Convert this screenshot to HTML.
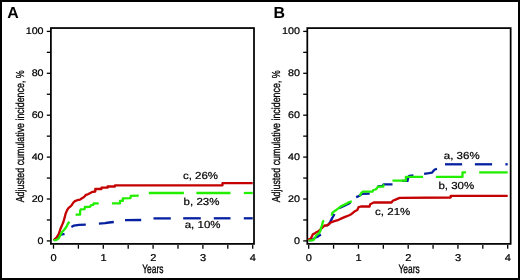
<!DOCTYPE html>
<html><head><meta charset="utf-8"><style>
html,body{margin:0;padding:0;background:#fff;}
body{width:520px;height:280px;overflow:hidden;}
svg{display:block;will-change:transform;}
text{font-family:"Liberation Sans",sans-serif;fill:#000;text-rendering:geometricPrecision;}
.tk{font-size:9.9px;stroke:#000;stroke-width:0.22px;}
.tky{font-size:9.6px;stroke:#000;stroke-width:0.22px;}
.lb{font-size:10.2px;stroke:#000;stroke-width:0.2px;}
.cond{font-size:11.6px;stroke:#000;stroke-width:0.3px;}
.big{font-size:15.9px;font-weight:bold;}
</style></head><body>
<svg width="520" height="280" viewBox="0 0 520 280">
<rect x="0" y="0" width="520" height="280" fill="#fff"/>
<rect x="1" y="1" width="518" height="278" fill="none" stroke="#000" stroke-width="2"/>
<rect x="50.9" y="28.05" width="203.1" height="215.85" fill="none" stroke="#000" stroke-width="1.75"/>
<line x1="46.8" y1="240.90" x2="50.9" y2="240.90" stroke="#000" stroke-width="1.3"/>
<text transform="translate(43.60,243.70) scale(1.12,1)" text-anchor="end" class="tky">0</text>
<line x1="46.8" y1="219.95" x2="50.9" y2="219.95" stroke="#000" stroke-width="1.3"/>
<line x1="46.8" y1="199.00" x2="50.9" y2="199.00" stroke="#000" stroke-width="1.3"/>
<text transform="translate(43.60,201.80) scale(1.12,1)" text-anchor="end" class="tky">20</text>
<line x1="46.8" y1="178.05" x2="50.9" y2="178.05" stroke="#000" stroke-width="1.3"/>
<line x1="46.8" y1="157.10" x2="50.9" y2="157.10" stroke="#000" stroke-width="1.3"/>
<text transform="translate(43.60,159.90) scale(1.12,1)" text-anchor="end" class="tky">40</text>
<line x1="46.8" y1="136.15" x2="50.9" y2="136.15" stroke="#000" stroke-width="1.3"/>
<line x1="46.8" y1="115.20" x2="50.9" y2="115.20" stroke="#000" stroke-width="1.3"/>
<text transform="translate(43.60,118.00) scale(1.12,1)" text-anchor="end" class="tky">60</text>
<line x1="46.8" y1="94.25" x2="50.9" y2="94.25" stroke="#000" stroke-width="1.3"/>
<line x1="46.8" y1="73.30" x2="50.9" y2="73.30" stroke="#000" stroke-width="1.3"/>
<text transform="translate(43.60,76.10) scale(1.12,1)" text-anchor="end" class="tky">80</text>
<line x1="46.8" y1="52.35" x2="50.9" y2="52.35" stroke="#000" stroke-width="1.3"/>
<line x1="46.8" y1="31.40" x2="50.9" y2="31.40" stroke="#000" stroke-width="1.3"/>
<text transform="translate(43.60,34.20) scale(1.12,1)" text-anchor="end" class="tky">100</text>
<line x1="53.50" y1="244.9" x2="53.50" y2="248.70000000000002" stroke="#000" stroke-width="1.3"/>
<text transform="translate(53.70,260.70) scale(1.12,1)" text-anchor="middle" class="tk">0</text>
<line x1="78.40" y1="244.9" x2="78.40" y2="248.70000000000002" stroke="#000" stroke-width="1.3"/>
<line x1="103.30" y1="244.9" x2="103.30" y2="248.70000000000002" stroke="#000" stroke-width="1.3"/>
<text transform="translate(103.50,260.70) scale(1.12,1)" text-anchor="middle" class="tk">1</text>
<line x1="128.20" y1="244.9" x2="128.20" y2="248.70000000000002" stroke="#000" stroke-width="1.3"/>
<line x1="153.10" y1="244.9" x2="153.10" y2="248.70000000000002" stroke="#000" stroke-width="1.3"/>
<text transform="translate(153.30,260.70) scale(1.12,1)" text-anchor="middle" class="tk">2</text>
<line x1="178.00" y1="244.9" x2="178.00" y2="248.70000000000002" stroke="#000" stroke-width="1.3"/>
<line x1="202.90" y1="244.9" x2="202.90" y2="248.70000000000002" stroke="#000" stroke-width="1.3"/>
<text transform="translate(203.10,260.70) scale(1.12,1)" text-anchor="middle" class="tk">3</text>
<line x1="227.80" y1="244.9" x2="227.80" y2="248.70000000000002" stroke="#000" stroke-width="1.3"/>
<line x1="252.70" y1="244.9" x2="252.70" y2="248.70000000000002" stroke="#000" stroke-width="1.3"/>
<text transform="translate(252.90,260.70) scale(1.12,1)" text-anchor="middle" class="tk">4</text>
<text x="152.8" y="273.1" text-anchor="middle" class="cond" style="font-size:12.2px" textLength="21.2" lengthAdjust="spacingAndGlyphs">Years</text>
<text transform="translate(24.0,202.3) rotate(-90)" class="cond" textLength="132" lengthAdjust="spacingAndGlyphs">Adjusted cumulative incidence, %</text>
<text x="7.2" y="18.4" class="big">A</text>
<rect x="307.3" y="28.1" width="203.34999999999997" height="215.8" fill="none" stroke="#000" stroke-width="1.75"/>
<line x1="303.2" y1="240.90" x2="307.3" y2="240.90" stroke="#000" stroke-width="1.3"/>
<text transform="translate(300.00,243.70) scale(1.12,1)" text-anchor="end" class="tky">0</text>
<line x1="303.2" y1="219.95" x2="307.3" y2="219.95" stroke="#000" stroke-width="1.3"/>
<line x1="303.2" y1="199.00" x2="307.3" y2="199.00" stroke="#000" stroke-width="1.3"/>
<text transform="translate(300.00,201.80) scale(1.12,1)" text-anchor="end" class="tky">20</text>
<line x1="303.2" y1="178.05" x2="307.3" y2="178.05" stroke="#000" stroke-width="1.3"/>
<line x1="303.2" y1="157.10" x2="307.3" y2="157.10" stroke="#000" stroke-width="1.3"/>
<text transform="translate(300.00,159.90) scale(1.12,1)" text-anchor="end" class="tky">40</text>
<line x1="303.2" y1="136.15" x2="307.3" y2="136.15" stroke="#000" stroke-width="1.3"/>
<line x1="303.2" y1="115.20" x2="307.3" y2="115.20" stroke="#000" stroke-width="1.3"/>
<text transform="translate(300.00,118.00) scale(1.12,1)" text-anchor="end" class="tky">60</text>
<line x1="303.2" y1="94.25" x2="307.3" y2="94.25" stroke="#000" stroke-width="1.3"/>
<line x1="303.2" y1="73.30" x2="307.3" y2="73.30" stroke="#000" stroke-width="1.3"/>
<text transform="translate(300.00,76.10) scale(1.12,1)" text-anchor="end" class="tky">80</text>
<line x1="303.2" y1="52.35" x2="307.3" y2="52.35" stroke="#000" stroke-width="1.3"/>
<line x1="303.2" y1="31.40" x2="307.3" y2="31.40" stroke="#000" stroke-width="1.3"/>
<text transform="translate(300.00,34.20) scale(1.12,1)" text-anchor="end" class="tky">100</text>
<line x1="308.70" y1="244.9" x2="308.70" y2="248.70000000000002" stroke="#000" stroke-width="1.3"/>
<text transform="translate(308.90,260.70) scale(1.12,1)" text-anchor="middle" class="tk">0</text>
<line x1="333.57" y1="244.9" x2="333.57" y2="248.70000000000002" stroke="#000" stroke-width="1.3"/>
<line x1="358.45" y1="244.9" x2="358.45" y2="248.70000000000002" stroke="#000" stroke-width="1.3"/>
<text transform="translate(358.65,260.70) scale(1.12,1)" text-anchor="middle" class="tk">1</text>
<line x1="383.32" y1="244.9" x2="383.32" y2="248.70000000000002" stroke="#000" stroke-width="1.3"/>
<line x1="408.20" y1="244.9" x2="408.20" y2="248.70000000000002" stroke="#000" stroke-width="1.3"/>
<text transform="translate(408.40,260.70) scale(1.12,1)" text-anchor="middle" class="tk">2</text>
<line x1="433.07" y1="244.9" x2="433.07" y2="248.70000000000002" stroke="#000" stroke-width="1.3"/>
<line x1="457.95" y1="244.9" x2="457.95" y2="248.70000000000002" stroke="#000" stroke-width="1.3"/>
<text transform="translate(458.15,260.70) scale(1.12,1)" text-anchor="middle" class="tk">3</text>
<line x1="482.82" y1="244.9" x2="482.82" y2="248.70000000000002" stroke="#000" stroke-width="1.3"/>
<line x1="507.70" y1="244.9" x2="507.70" y2="248.70000000000002" stroke="#000" stroke-width="1.3"/>
<text transform="translate(507.90,260.70) scale(1.12,1)" text-anchor="middle" class="tk">4</text>
<text x="409.1" y="273.1" text-anchor="middle" class="cond" style="font-size:12.2px" textLength="21.2" lengthAdjust="spacingAndGlyphs">Years</text>
<text transform="translate(280.4,202.3) rotate(-90)" class="cond" textLength="132" lengthAdjust="spacingAndGlyphs">Adjusted cumulative incidence, %</text>
<text x="273.4" y="18.4" class="big">B</text>
<polyline points="53.6,240.3 57.0,238.5 60.1,235.0 64.5,233.8" fill="none" stroke="#0520a0" stroke-width="2.3" stroke-linejoin="round"/>
<polyline points="71.4,226.9 73.9,225.6 79.0,224.9 85.8,224.6" fill="none" stroke="#0520a0" stroke-width="2.3" stroke-linejoin="round"/>
<polyline points="98.9,223.7 105.0,223.2 109.0,222.5 113.8,222.0" fill="none" stroke="#0520a0" stroke-width="2.3" stroke-linejoin="round"/>
<polyline points="125.0,220.2 141.2,220.0" fill="none" stroke="#0520a0" stroke-width="2.3" stroke-linejoin="round"/>
<polyline points="153.5,218.4 170.8,218.4" fill="none" stroke="#0520a0" stroke-width="2.3" stroke-linejoin="round"/>
<polyline points="183.2,218.3 200.8,218.3" fill="none" stroke="#0520a0" stroke-width="2.3" stroke-linejoin="round"/>
<polyline points="213.8,218.3 230.5,218.3" fill="none" stroke="#0520a0" stroke-width="2.3" stroke-linejoin="round"/>
<polyline points="243.8,218.3 252.7,218.3" fill="none" stroke="#0520a0" stroke-width="2.3" stroke-linejoin="round"/>
<polyline points="53.6,240.2 54.3,239.6 56.5,237.6 58.8,233.8 60.3,229.3 61.8,225.6 63.3,222.2 64.7,217.4 65.6,213.7 67.0,210.4 68.4,208.1 70.2,206.7 71.6,205.3 73.0,203.0 74.9,201.1 77.2,200.2 80.0,199.6 81.6,198.5 83.7,197.3 84.8,196.2 85.9,194.8 87.9,194.3 90.3,193.0 92.6,191.8 95.3,191.5 95.3,189.0 101.5,189.0 101.5,187.7 107.6,187.7 107.6,186.5 115.0,186.5 115.0,185.3 222.5,185.3 222.5,183.2 252.7,183.2" fill="none" stroke="#c40000" stroke-width="2.3" stroke-linejoin="round"/>
<polyline points="53.6,240.4 56.5,239.9 58.8,238.3 60.3,235.3 61.8,232.3 64.0,230.0 66.3,227.0 67.8,224.0 69.4,221.6" fill="none" stroke="#22ee00" stroke-width="2.3" stroke-linejoin="round"/>
<polyline points="75.6,214.7 80.1,214.7 80.1,211.0 80.7,209.4 84.6,209.1 84.9,207.0 90.0,206.8 90.7,205.4 93.2,204.9 93.6,203.5 98.7,203.4" fill="none" stroke="#22ee00" stroke-width="2.3" stroke-linejoin="round"/>
<polyline points="111.9,203.4 120.0,203.4 120.0,200.9 122.8,200.9 122.8,198.3 130.5,198.1 130.8,195.9 138.7,195.7" fill="none" stroke="#22ee00" stroke-width="2.3" stroke-linejoin="round"/>
<polyline points="148.8,193.0 183.9,193.0" fill="none" stroke="#22ee00" stroke-width="2.3" stroke-linejoin="round"/>
<polyline points="196.4,193.0 230.5,193.0" fill="none" stroke="#22ee00" stroke-width="2.3" stroke-linejoin="round"/>
<polyline points="243.8,193.0 252.7,193.0" fill="none" stroke="#22ee00" stroke-width="2.3" stroke-linejoin="round"/>
<polyline points="308.6,240.3 312.0,240.0 315.4,237.6 318.5,236.1 320.9,234.5" fill="none" stroke="#0520a0" stroke-width="2.3" stroke-linejoin="round"/>
<polyline points="326.7,225.3 328.2,224.8 330.1,222.1 332.3,217.9 334.5,214.0" fill="none" stroke="#0520a0" stroke-width="2.3" stroke-linejoin="round"/>
<polyline points="339.0,208.3 345.0,205.5 350.5,202.7" fill="none" stroke="#0520a0" stroke-width="2.3" stroke-linejoin="round"/>
<polyline points="356.1,197.2 358.3,196.4 360.5,195.0 362.0,193.8 369.7,193.6" fill="none" stroke="#0520a0" stroke-width="2.3" stroke-linejoin="round"/>
<polyline points="377.5,186.3 382.5,185.8 383.8,184.4 392.5,184.4" fill="none" stroke="#0520a0" stroke-width="2.3" stroke-linejoin="round"/>
<polyline points="402.0,180.9 407.5,180.9 408.0,178.6 409.1,175.9 413.4,175.4" fill="none" stroke="#0520a0" stroke-width="2.3" stroke-linejoin="round"/>
<polyline points="424.1,173.8 428.9,173.2 432.1,172.7 433.2,171.1 434.8,169.5 437.0,168.9" fill="none" stroke="#0520a0" stroke-width="2.3" stroke-linejoin="round"/>
<polyline points="445.0,164.3 462.1,164.3" fill="none" stroke="#0520a0" stroke-width="2.3" stroke-linejoin="round"/>
<polyline points="474.9,164.3 492.1,164.3" fill="none" stroke="#0520a0" stroke-width="2.3" stroke-linejoin="round"/>
<polyline points="505.4,164.3 507.7,164.3" fill="none" stroke="#0520a0" stroke-width="2.3" stroke-linejoin="round"/>
<polyline points="308.6,240.2 308.6,239.3 310.7,238.8 312.2,235.7 312.7,234.6 314.3,233.6 315.8,232.6 317.9,231.5 319.4,230.5 321.5,228.4 323.6,226.4 325.1,225.3 326.7,225.6 328.8,224.3 330.9,222.3 334.4,221.1 338.7,219.8 341.6,218.4 345.1,216.9 348.7,215.5 351.6,213.9 354.4,211.6 357.3,210.1 358.7,207.1 360.9,206.5 369.6,206.5 370.2,204.2 373.7,202.5 391.5,202.5 392.7,200.8 395.6,199.6 399.6,197.9 450.7,197.5 450.7,195.8 507.7,195.8" fill="none" stroke="#c40000" stroke-width="2.3" stroke-linejoin="round"/>
<polyline points="308.6,240.3 311.7,240.3 313.8,239.8 315.3,237.2 316.3,235.2 317.9,234.1 319.4,232.6 320.5,230.5 321.0,227.9 322.0,225.3 322.5,223.3 323.1,221.2 324.1,220.7" fill="none" stroke="#22ee00" stroke-width="2.3" stroke-linejoin="round"/>
<polyline points="331.6,215.7 332.3,212.9 335.1,210.7 338.0,208.6 340.9,206.4 343.7,205.0 346.6,203.6 349.4,202.1 351.8,201.4" fill="none" stroke="#22ee00" stroke-width="2.3" stroke-linejoin="round"/>
<polyline points="359.8,196.1 361.0,193.4 362.4,192.0 363.3,191.6 372.6,191.6 373.3,190.0 375.4,189.5 376.9,188.4 377.6,187.0 378.6,186.7 383.1,186.7 383.8,185.0 384.4,185.0" fill="none" stroke="#22ee00" stroke-width="2.3" stroke-linejoin="round"/>
<polyline points="392.5,180.7 405.9,180.7 405.9,176.8 423.1,176.8" fill="none" stroke="#22ee00" stroke-width="2.3" stroke-linejoin="round"/>
<polyline points="435.9,176.8 462.5,176.8 462.5,172.4 466.1,172.4" fill="none" stroke="#22ee00" stroke-width="2.3" stroke-linejoin="round"/>
<polyline points="479.2,172.4 507.7,172.4" fill="none" stroke="#22ee00" stroke-width="2.3" stroke-linejoin="round"/>
<text transform="translate(182.90,178.90) scale(1.13,1)" class="lb">c, 26%</text>
<text transform="translate(183.60,205.10) scale(1.13,1)" class="lb">b, 23%</text>
<text transform="translate(184.70,228.40) scale(1.13,1)" class="lb">a, 10%</text>
<text transform="translate(443.80,159.20) scale(1.13,1)" class="lb">a, 36%</text>
<text transform="translate(438.40,188.70) scale(1.13,1)" class="lb">b, 30%</text>
<text transform="translate(375.10,215.40) scale(1.13,1)" class="lb">c, 21%</text>
</svg>
</body></html>
